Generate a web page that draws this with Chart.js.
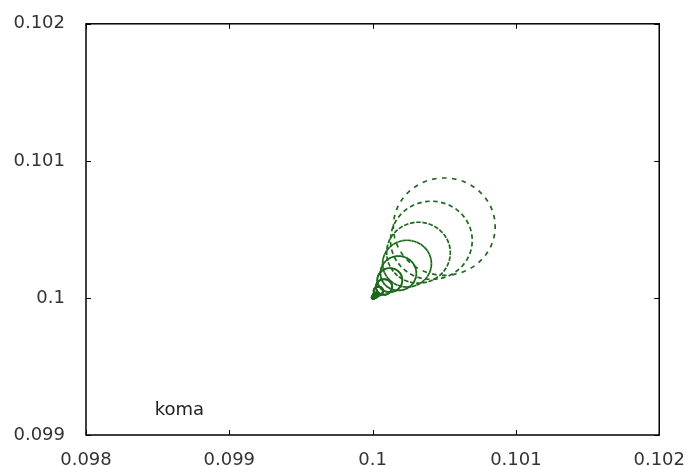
<!DOCTYPE html>
<html>
<head>
<meta charset="utf-8">
<script src="https://cdn.jsdelivr.net/npm/chart.js@4"></script>
<style>
    html, body { margin: 0; padding: 0; background: #fff; }
    #wrap { width: 692px; height: 466px; }
</style>
</head>
<body>
<div id="wrap"><canvas id="koma-chart" width="692" height="466"></canvas></div>
<script>
// оси
const xTicks = [0.098, 0.099, 0.1, 0.101, 0.102];
const yTicks = [0.099, 0.1, 0.101, 0.102];

// кольца комы: центр и радиус (в единицах данных)
const ringCenterX = [0.10050, 0.10041, 0.10032, 0.10024, 0.10018, 0.10012, 0.10008, 0.10004, 0.10002, 0.100005];
const ringCenterY = [0.10052, 0.10042, 0.10033, 0.10025, 0.10018, 0.10013, 0.10008, 0.10005, 0.10002, 0.100005];
const ringRadius  = [0.000355, 0.000285, 0.000222, 0.00017, 0.000125, 0.000087, 0.000056, 0.000031, 0.000014, 0.0000035];
const pointsPerRing = 32;

const labelText = 'koma';
const labelPos = {x: 0.09848, y: 0.09918};

const textFont = {family: 'DejaVu Sans', size: 18};

// точки на каждом кольце (угол нужен для наклона штриха)
const spot = [];
ringRadius.forEach((r, i) => {
    for (let k = 0; k < pointsPerRing; k++) {
        const a = 2 * Math.PI * (k + 0.5 * (i % 2)) / pointsPerRing;
        spot.push({x: ringCenterX[i] + r * Math.cos(a), y: ringCenterY[i] + r * Math.sin(a), a: a});
    }
});

// рамка, внутренние засечки и подпись
const framePlugin = {
    id: 'frame',
    afterDraw(chart) {
        const {ctx, chartArea: a, scales} = chart;
        ctx.save();
        ctx.strokeStyle = '#000';
        ctx.lineWidth = 1;
        ctx.beginPath();
        xTicks.forEach(v => {
            const px = Math.round(scales.x.getPixelForValue(v)) + 0.5;
            ctx.moveTo(px, a.bottom); ctx.lineTo(px, a.bottom - 5);
            ctx.moveTo(px, a.top); ctx.lineTo(px, a.top + 5);
        });
        yTicks.forEach(v => {
            const py = Math.round(scales.y.getPixelForValue(v)) + 0.5;
            ctx.moveTo(a.left, py); ctx.lineTo(a.left + 5, py);
            ctx.moveTo(a.right, py); ctx.lineTo(a.right - 5, py);
        });
        ctx.stroke();
        ctx.lineWidth = 1.5;
        ctx.strokeRect(a.left, a.top, a.right - a.left, a.bottom - a.top);

        ctx.fillStyle = '#222';
        ctx.font = textFont.size + 'px ' + textFont.family;
        ctx.textBaseline = 'middle';
        ctx.fillText(labelText, scales.x.getPixelForValue(labelPos.x), scales.y.getPixelForValue(labelPos.y));
        ctx.restore();
    }
};

const fmt = v => String(Number(v.toFixed(3)));

new Chart(document.getElementById('koma-chart'), {
    type: 'scatter',
    data: {
        datasets: [{
            label: labelText,
            data: spot,
            pointStyle: 'line',
            pointRadius: 2.3,
            pointHoverRadius: 2.3,
            borderWidth: 1.7,
            borderColor: '#1d6a1d',
            backgroundColor: '#1d6a1d',
            rotation: c => (c.raw ? -c.raw.a * 180 / Math.PI - 90 : 0)
        }]
    },
    options: {
        responsive: false,
        animation: false,
        events: [],
        layout: {padding: {top: 20, right: 31, bottom: 0, left: 0}},
        plugins: {legend: {display: false}, tooltip: {enabled: false}},
        scales: {
            x: {
                type: 'linear',
                min: 0.098, max: 0.102,
                afterBuildTicks: s => { s.ticks = xTicks.map(v => ({value: v})); },
                afterFit: s => { s.height = 31; },
                grid: {display: false},
                border: {display: false},
                ticks: {callback: fmt, font: textFont, color: '#333', padding: 7, maxRotation: 0}
            },
            y: {
                type: 'linear',
                min: 0.099, max: 0.102,
                afterBuildTicks: s => { s.ticks = yTicks.map(v => ({value: v})); },
                afterFit: s => { s.width = 86; },
                grid: {display: false},
                border: {display: false},
                ticks: {callback: fmt, font: textFont, color: '#333', padding: 13}
            }
        }
    },
    plugins: [framePlugin]
});
</script>
</body>
</html>
